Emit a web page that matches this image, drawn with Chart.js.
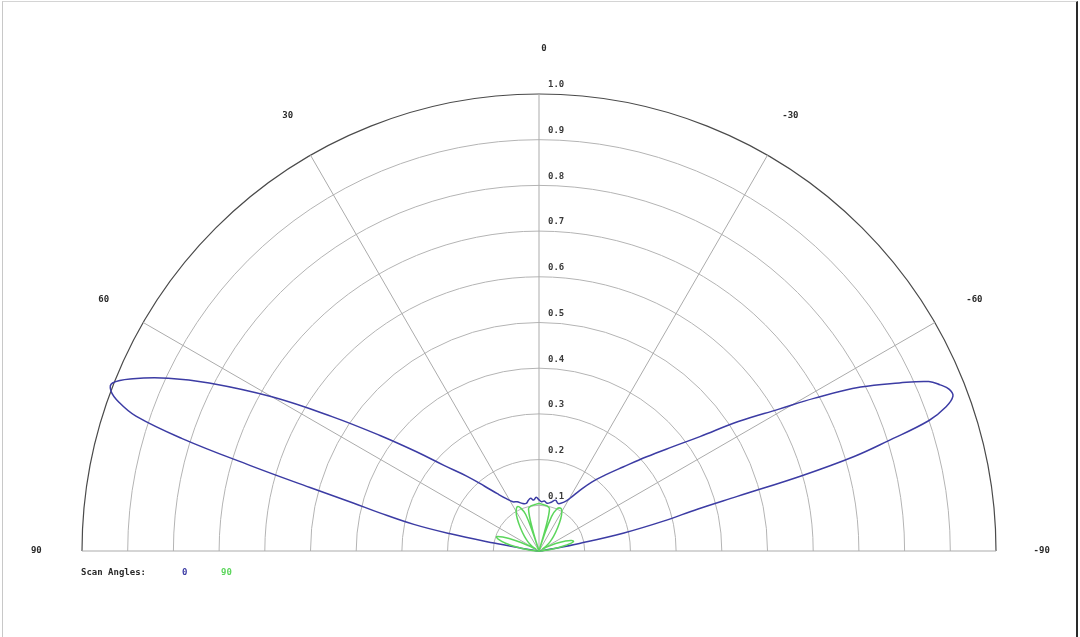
<!DOCTYPE html>
<html>
<head>
<meta charset="utf-8">
<script src="https://cdn.jsdelivr.net/npm/chart.js@4.4.1/dist/chart.umd.min.js"></script>
<style>
  html, body { margin: 0; padding: 0; background: #fff; }
  #wrap { position: relative; width: 1080px; height: 637px; overflow: hidden; }
  #frame {
    position: absolute; left: 2px; top: 1px; width: 1073px; height: 640px;
    border-left: 1px solid #c8c8c8; border-top: 1px solid #d4d4d4; border-right: 2px solid #2a2a2a;
    pointer-events: none;
  }
</style>
</head>
<body>
<div id="wrap">
  <canvas id="polarChart" width="1080" height="637"></canvas>
  <div id="frame"></div>
</div>
<script>
// angles in degrees, positive = left of broadside
const scan0Angles = [-90, -84, -81, -79.4, -78, -76.5, -75.2, -74.6, -74, -73.3, -72.5, -71.5, -70.5, -69.5, -68.5, -67.5,
    -66.5, -65, -63, -61, -59.4, -57, -54.6, -52, -48.8, -45, -41, -37.4, -34, -30.5, -27, -22, -18, -14, -10, -6, -3,
    0, 3, 6, 9, 12, 15, 19, 24, 28, 32, 36, 40, 44, 48, 51, 54, 57, 60, 63, 65, 67, 68.5, 69.5, 70.5, 71.5, 72.5, 73.5,
    74.5, 75.5, 76.5, 78, 79, 80, 81, 84, 90];
const scan0Values = [0, 0.005, 0.03, 0.09, 0.19, 0.28, 0.36, 0.45, 0.6, 0.72, 0.8, 0.9, 0.945, 0.967, 0.965, 0.95,
    0.93, 0.87, 0.79, 0.69, 0.61, 0.52, 0.432, 0.37, 0.313, 0.26, 0.22, 0.19, 0.16, 0.134, 0.12, 0.112, 0.117, 0.11, 0.106, 0.11, 0.108,
    0.112, 0.118, 0.112, 0.117, 0.113, 0.108, 0.11, 0.118, 0.122, 0.135, 0.155, 0.185, 0.228, 0.28, 0.345, 0.43, 0.54, 0.675, 0.81, 0.895, 0.965, 1.003, 1.0, 0.975, 0.93, 0.82, 0.66,
    0.52, 0.42, 0.36, 0.28, 0.2, 0.1, 0.04, 0.005, 0];

const scan90Angles = [-90, -85, -82, -78, -75, -72, -69, -66, -63, -60, -55, -50, -45, -39, -34, -30, -27, -23, -20, -18, -17, -16, -14, -10, -5,
    0, 5, 10, 14, 16.5, 17.5, 18.5, 20, 23, 26, 30, 34, 39, 45, 50, 55, 60, 63, 66, 69, 71.3, 74, 77, 80, 84, 88, 90];
const scan90Values = [0, 0.01, 0.03, 0.06, 0.078, 0.075, 0.06, 0.04, 0.02, 0.008, 0.02, 0.032, 0.045, 0.064, 0.085, 0.1, 0.105, 0.1, 0.08, 0.03, 0.0, 0.05, 0.095, 0.1, 0.102,
    0.104, 0.102, 0.1, 0.095, 0.05, 0.0, 0.04, 0.085, 0.102, 0.108, 0.1, 0.085, 0.064, 0.045, 0.032, 0.02, 0.008, 0.025, 0.055, 0.085, 0.098, 0.092, 0.075, 0.05, 0.02, 0.005, 0];

const ringTicks = [0.1, 0.2, 0.3, 0.4, 0.5, 0.6, 0.7, 0.8, 0.9, 1.0];
const spokeAngles = [90, 60, 30, 0, -30, -60, -90];
const seriesLabels = ['0', '90'];
const seriesColors = ['#3c3ca4', '#5cd65c'];

// polar -> cartesian, positive angle goes left
function toXY(angles, values) {
    return angles.map((a, i) => {
        const t = a * Math.PI / 180;
        return { x: -values[i] * Math.sin(t), y: values[i] * Math.cos(t) };
    });
}

const FONT = 'bold 9px "DejaVu Sans Mono", monospace';

const polarGrid = {
    id: 'polarGrid',
    beforeDatasetsDraw(chart) {
        const ctx = chart.ctx;
        const xs = chart.scales.x, ys = chart.scales.y;
        const cx = xs.getPixelForValue(0), cy = ys.getPixelForValue(0);
        const unit = xs.getPixelForValue(1) - cx;
        ctx.save();
        ringTicks.forEach(r => {
            ctx.strokeStyle = r === 1 ? '#4a4a4a' : '#b4b4b4';
            ctx.lineWidth = r === 1 ? 1.2 : 1;
            ctx.beginPath();
            ctx.arc(cx, cy, r * unit, Math.PI, 2 * Math.PI);
            ctx.stroke();
        });
        ctx.strokeStyle = '#ababab';
        ctx.lineWidth = 1;
        spokeAngles.forEach(a => {
            const t = a * Math.PI / 180;
            ctx.beginPath();
            ctx.moveTo(cx, cy);
            ctx.lineTo(xs.getPixelForValue(-Math.sin(t)), ys.getPixelForValue(Math.cos(t)));
            ctx.stroke();
        });
        ctx.restore();
    },
    afterDraw(chart) {
        const ctx = chart.ctx;
        const xs = chart.scales.x, ys = chart.scales.y;
        const cx = xs.getPixelForValue(0);
        ctx.save();
        ctx.font = FONT;
        ctx.fillStyle = '#2a2a2a';
        ctx.textBaseline = 'middle';
        // angle labels just outside the outer ring
        ctx.textAlign = 'center';
        spokeAngles.forEach(a => {
            const t = a * Math.PI / 180;
            const shift = a === 0 ? 5 : 0;
            ctx.fillText(String(a), xs.getPixelForValue(-1.1 * Math.sin(t)) + shift, ys.getPixelForValue(1.1 * Math.cos(t)));
        });
        // ring values along the 0 spoke
        ctx.textAlign = 'left';
        ctx.fillStyle = '#3a3a3a';
        ringTicks.forEach(r => {
            ctx.fillText(r.toFixed(1), cx + 9, ys.getPixelForValue(r) - 9);
        });
        // legend
        const ly = ys.getPixelForValue(0) + 22;
        ctx.fillStyle = '#2a2a2a';
        ctx.fillText('Scan Angles:', 81, ly);
        const lx = [182, 221];
        chart.data.datasets.forEach((ds, i) => {
            ctx.fillStyle = ds.borderColor;
            ctx.fillText(ds.label, lx[i], ly);
        });
        ctx.restore();
    }
};

const ctx = document.getElementById('polarChart').getContext('2d');
new Chart(ctx, {
    type: 'scatter',
    data: {
        datasets: [{
            label: seriesLabels[0],
            data: toXY(scan0Angles, scan0Values),
            borderColor: seriesColors[0],
            order: 2
        }, {
            label: seriesLabels[1],
            data: toXY(scan90Angles, scan90Values),
            borderColor: seriesColors[1],
            order: 1
        }]
    },
    options: {
        responsive: false,
        animation: false,
        showLine: true,
        layout: { padding: 0 },
        elements: {
            point: { radius: 0, hoverRadius: 0 },
            line: { borderWidth: 1.5, tension: 0.4, fill: false }
        },
        scales: {
            x: { type: 'linear', display: false, min: -539 / 457, max: 541 / 457 },
            y: { type: 'linear', display: false, min: -86 / 457, max: 551 / 457 }
        },
        plugins: {
            legend: { display: false },
            tooltip: { enabled: false }
        }
    },
    plugins: [polarGrid]
});
</script>
</body>
</html>
